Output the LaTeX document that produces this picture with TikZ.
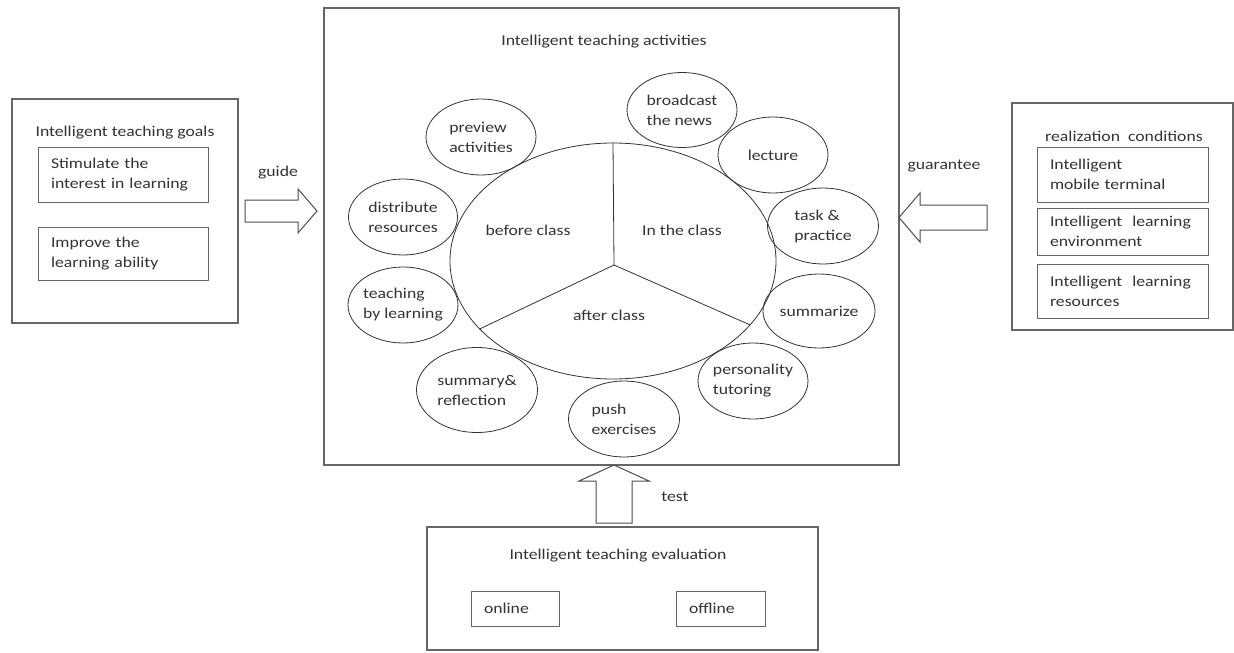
\documentclass[tikz,border=0pt]{standalone}
\usepackage{fontspec}
\setmainfont{Carlito}[FakeStretch=1.18]
\usetikzlibrary{shapes.geometric}
\begin{document}
\begin{tikzpicture}[x=1pt,y=-1pt,
  every node/.style={font=\fontsize{15pt}{20pt}\selectfont, text=black!80},
  outerbox/.style={draw=black!60, line width=1.1pt, rectangle, inner sep=0pt},
  inbox/.style={draw=black!60, line width=1pt, rectangle, align=left, inner xsep=13pt, inner ysep=0pt},
  bubble/.style={draw=black!80, line width=0.8pt, ellipse, inner sep=0pt},
  lbl/.style={align=left, inner sep=0pt},
  hollow/.style={draw=black!70, line width=1pt, line join=miter}]
\useasboundingbox (0,0) rectangle (1234,653);

% main frame
\node[outerbox, minimum width=575pt, minimum height=457pt] (main) at (611.5,236.5) {};
\node[lbl] (maintitle) at (604,42) {Intelligent teaching activities};

% left: goals
\node[outerbox, minimum width=226pt, minimum height=224pt] (goals) at (125,211) {};
\node[lbl] (goalstitle) at (125,133) {Intelligent teaching goals};
\node[inbox, text width=144pt, minimum height=55pt] (g1) at (123,174.5) {Stimulate the\\interest in learning};
\node[inbox, text width=144pt, minimum height=53pt] (g2) at (123,253.5) {Improve the\\learning ability};

% right: conditions
\node[outerbox, minimum width=221pt, minimum height=227pt] (cond) at (1122.5,216.5) {};
\node[lbl] (condtitle) at (1124,136) {realization\ \ conditions};
\node[inbox, text width=145pt, minimum height=55pt] (c1) at (1122.5,174.5) {Intelligent\\mobile terminal};
\node[inbox, text width=145pt, minimum height=47pt] (c2) at (1122.5,231.5) {Intelligent\ \ learning\\environment};
\node[inbox, text width=145pt, minimum height=54pt] (c3) at (1122.5,291) {Intelligent\ \ learning\\resources};

% bottom: evaluation
\node[outerbox, minimum width=391pt, minimum height=123pt] (eval) at (622.5,588.5) {};
\node[lbl] (evaltitle) at (618,556) {Intelligent teaching evaluation};
\node[inbox, text width=62pt, minimum height=35pt] (online) at (515,608.5) {online};
\node[inbox, text width=63pt, minimum height=35pt] (offline) at (720.5,608.5) {offline};

% hollow arrows
\draw[hollow] (245,200) -- (298,200) -- (298,189) -- (317,211) -- (298,233) -- (298,222) -- (245,222) -- cycle;
\node[lbl] (guide) at (278,173) {guide};
\draw[hollow] (899,217.5) -- (920,193) -- (920,205) -- (987,205) -- (987,230) -- (920,230) -- (920,242) -- cycle;
\node[lbl] (guarantee) at (944,166) {guarantee};
\draw[hollow] (614,465) -- (649,481) -- (632,481) -- (632,523) -- (596,523) -- (596,481) -- (579,481) -- cycle;
\node[lbl] (test) at (675,497) {test};

% central wheel
\node[bubble, minimum width=326pt, minimum height=236pt] (wheel) at (613,261) {};
\coordinate (hub) at (614,265);
\draw[draw=black!80, line width=0.8pt] (hub) -- (wheel.north);
\draw[draw=black!80, line width=0.8pt] (hub) -- (wheel.207);
\draw[draw=black!80, line width=0.8pt] (hub) -- (wheel.335.5);
\node[lbl] (before) at (528,230) {before class};
\node[lbl] (inclass) at (682,230) {In the class};
\node[lbl] (after) at (609,315) {after class};

% activity bubbles
\node[bubble, minimum width=110pt, minimum height=76pt] (preview) at (481,137) {};
\node[lbl] at (preview) {preview\\activities};
\node[bubble, minimum width=110pt, minimum height=75pt] (broadcast) at (682,110) {};
\node[lbl] at (broadcast) {broadcast\\the news};
\node[bubble, minimum width=110pt, minimum height=76pt] (lecture) at (773,155) {};
\node[lbl] at (lecture) {lecture};
\node[bubble, minimum width=111pt, minimum height=76pt] (task) at (823,226) {};
\node[lbl] at (task) {task \&\\practice};
\node[bubble, minimum width=112pt, minimum height=74pt] (summarize) at (819,311) {};
\node[lbl] at (summarize) {summarize};
\node[bubble, minimum width=110pt, minimum height=76pt] (tutoring) at (753,381) {};
\node[lbl] at (tutoring) {personality\\tutoring};
\node[bubble, minimum width=111pt, minimum height=76pt] (push) at (624,419) {};
\node[lbl] at (push) {push\\exercises};
\node[bubble, minimum width=121pt, minimum height=85pt] (reflect) at (477,390) {};
\node[lbl] at (reflect) {summary\&\\reflection};
\node[bubble, minimum width=110pt, minimum height=76pt] (teach) at (403,305) {};
\node[lbl] at (teach) {teaching\\by learning};
\node[bubble, minimum width=109pt, minimum height=76pt] (distribute) at (403,217) {};
\node[lbl] at (distribute) {distribute\\resources};
\end{tikzpicture}
\end{document}
